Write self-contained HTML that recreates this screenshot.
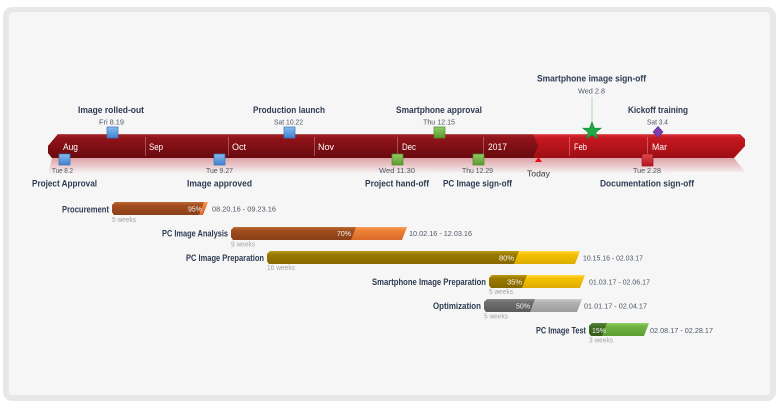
<!DOCTYPE html>
<html><head><meta charset="utf-8"><style>
html,body{margin:0;padding:0;background:#fff;}
svg{display:block;font-family:"Liberation Sans",sans-serif;}
.lb{font-weight:bold;font-size:9.5px;fill:#2d3b52;}
.dt{font-size:7.5px;fill:#4d5866;}
.wk{font-size:7px;fill:#a3a3a3;}
.mo{font-size:9px;fill:#fff;}
.pc{font-size:7.5px;fill:#f3f3f3;}
.rg{font-size:7.5px;fill:#4d5866;}
</style></head><body>
<svg width="780" height="407" viewBox="0 0 780 407" xmlns="http://www.w3.org/2000/svg">
<defs>
<linearGradient id="past" x1="0" y1="0" x2="0" y2="1">
<stop offset="0" stop-color="#a3262c"/><stop offset="0.18" stop-color="#8f141a"/><stop offset="0.6" stop-color="#7b0e13"/><stop offset="1" stop-color="#680a0e"/></linearGradient>
<linearGradient id="fut" x1="0" y1="0" x2="0" y2="1">
<stop offset="0" stop-color="#d8343a"/><stop offset="0.18" stop-color="#c5171f"/><stop offset="0.6" stop-color="#b2131a"/><stop offset="1" stop-color="#9b0f15"/></linearGradient>
<linearGradient id="refl" x1="0" y1="0" x2="0" y2="1">
<stop offset="0" stop-color="#c03a44" stop-opacity="0.45"/><stop offset="1" stop-color="#c03a44" stop-opacity="0"/></linearGradient>
<linearGradient id="blue" x1="0" y1="0" x2="0" y2="1"><stop offset="0" stop-color="#86bbee"/><stop offset="1" stop-color="#3f82cf"/></linearGradient>
<linearGradient id="green" x1="0" y1="0" x2="0" y2="1"><stop offset="0" stop-color="#94cc66"/><stop offset="1" stop-color="#5b9a2d"/></linearGradient>
<linearGradient id="red" x1="0" y1="0" x2="0" y2="1"><stop offset="0" stop-color="#e2484e"/><stop offset="1" stop-color="#b0181e"/></linearGradient>
<linearGradient id="brD" x1="0" y1="0" x2="0" y2="1"><stop offset="0" stop-color="#c06a35"/><stop offset="0.25" stop-color="#a24f20"/><stop offset="1" stop-color="#8a3f17"/></linearGradient>
<linearGradient id="brL" x1="0" y1="0" x2="0" y2="1"><stop offset="0" stop-color="#f7a160"/><stop offset="0.25" stop-color="#ef8337"/><stop offset="1" stop-color="#d8692a"/></linearGradient>
<linearGradient id="olD" x1="0" y1="0" x2="0" y2="1"><stop offset="0" stop-color="#b99a1a"/><stop offset="0.25" stop-color="#9c7b00"/><stop offset="1" stop-color="#846700"/></linearGradient>
<linearGradient id="olL" x1="0" y1="0" x2="0" y2="1"><stop offset="0" stop-color="#ffd84a"/><stop offset="0.25" stop-color="#f5c200"/><stop offset="1" stop-color="#dcab00"/></linearGradient>
<linearGradient id="grD" x1="0" y1="0" x2="0" y2="1"><stop offset="0" stop-color="#8a8a8a"/><stop offset="0.25" stop-color="#6e6e6e"/><stop offset="1" stop-color="#5a5a5a"/></linearGradient>
<linearGradient id="grL" x1="0" y1="0" x2="0" y2="1"><stop offset="0" stop-color="#cfcfcf"/><stop offset="0.25" stop-color="#b3b3b3"/><stop offset="1" stop-color="#9c9c9c"/></linearGradient>
<linearGradient id="gnD" x1="0" y1="0" x2="0" y2="1"><stop offset="0" stop-color="#5a8a3a"/><stop offset="0.25" stop-color="#426f24"/><stop offset="1" stop-color="#345b1b"/></linearGradient>
<linearGradient id="gnL" x1="0" y1="0" x2="0" y2="1"><stop offset="0" stop-color="#92d068"/><stop offset="0.25" stop-color="#72b545"/><stop offset="1" stop-color="#5c9c33"/></linearGradient>
</defs>

<!-- frame -->
<rect x="3" y="7" width="773" height="394" rx="9" fill="#e8e8e8"/>
<rect x="9" y="12" width="761" height="383" rx="4" fill="#f6f6f6"/>

<!-- band reflection -->
<polygon points="52,158 734,158 745,172 48,174" fill="url(#refl)"/>
<!-- band -->
<polygon points="58,134 740,134 745,139 745,146 734,158 52,158 48,153 48,146" fill="url(#fut)"/>
<polygon points="58,134 533,134 538,146 533,158 52,158 48,153 48,146" fill="url(#past)"/>
<line x1="58" y1="134.5" x2="740" y2="134.5" stroke="#ffffff" stroke-opacity="0.18"/>
<g stroke="#ffffff" stroke-opacity="0.28" stroke-width="1">
<line x1="145.5" y1="137" x2="145.5" y2="156"/>
<line x1="228.5" y1="137" x2="228.5" y2="156"/>
<line x1="314.5" y1="137" x2="314.5" y2="156"/>
<line x1="397.5" y1="137" x2="397.5" y2="156"/>
<line x1="483.5" y1="137" x2="483.5" y2="156"/>
<line x1="569.5" y1="137" x2="569.5" y2="156"/>
<line x1="647.5" y1="137" x2="647.5" y2="156"/>
</g>
<text class="mo" x="63" y="150" textLength="15" lengthAdjust="spacingAndGlyphs">Aug</text>
<text class="mo" x="149" y="150" textLength="14" lengthAdjust="spacingAndGlyphs">Sep</text>
<text class="mo" x="232" y="150" textLength="14" lengthAdjust="spacingAndGlyphs">Oct</text>
<text class="mo" x="318" y="150" textLength="16" lengthAdjust="spacingAndGlyphs">Nov</text>
<text class="mo" x="402" y="150" textLength="14" lengthAdjust="spacingAndGlyphs">Dec</text>
<text class="mo" x="488" y="150" textLength="19" lengthAdjust="spacingAndGlyphs">2017</text>
<text class="mo" x="574" y="150" textLength="13" lengthAdjust="spacingAndGlyphs">Feb</text>
<text class="mo" x="652" y="150" textLength="15" lengthAdjust="spacingAndGlyphs">Mar</text>

<!-- milestones squares -->
<rect x="59" y="154" width="11" height="11" fill="url(#blue)" stroke="#3a74b5" stroke-width="0.7"/>
<rect x="107" y="127" width="11" height="11" fill="url(#blue)" stroke="#3a74b5" stroke-width="0.7"/>
<rect x="214" y="154" width="11" height="11" fill="url(#blue)" stroke="#3a74b5" stroke-width="0.7"/>
<rect x="284" y="127" width="11" height="11" fill="url(#blue)" stroke="#3a74b5" stroke-width="0.7"/>
<rect x="392" y="154" width="11" height="11" fill="url(#green)" stroke="#4e8a2a" stroke-width="0.7"/>
<rect x="434" y="127" width="11" height="11" fill="url(#green)" stroke="#4e8a2a" stroke-width="0.7"/>
<rect x="473" y="154" width="11" height="11" fill="url(#green)" stroke="#4e8a2a" stroke-width="0.7"/>
<rect x="642" y="154" width="11" height="12" fill="url(#red)" stroke="#9a1318" stroke-width="0.7"/>

<!-- star with line -->
<line x1="592" y1="97" x2="592" y2="124" stroke="#a8dca8" stroke-width="1"/>
<polygon points="592,122 594.4,128.2 601,128.2 595.8,132.2 597.7,138.6 592,134.8 586.3,138.6 588.2,132.2 583,128.2 589.6,128.2" fill="#22a846" stroke="#148a34" stroke-width="0.7"/>
<!-- diamond -->
<polygon points="658,126.5 663,132 658,137.5 653,132" fill="#7d3fb0" stroke="#5e2a8c" stroke-width="0.6"/>
<!-- today -->
<polygon points="535,162 538.5,157 542,162" fill="#e31212"/>
<text x="538.5" y="176.5" font-size="8.5" fill="#333" text-anchor="middle" textLength="23" lengthAdjust="spacingAndGlyphs">Today</text>

<!-- milestone labels -->
<text class="lb" x="64.5" y="186.7" text-anchor="middle" textLength="65" lengthAdjust="spacingAndGlyphs">Project Approval</text>
<text class="dt" x="62.5" y="173" text-anchor="middle" textLength="21" lengthAdjust="spacingAndGlyphs">Tue 8.2</text>
<text class="lb" x="111" y="113" text-anchor="middle" textLength="66" lengthAdjust="spacingAndGlyphs">Image rolled-out</text>
<text class="dt" x="111.5" y="124.7" text-anchor="middle" textLength="25" lengthAdjust="spacingAndGlyphs">Fri 8.19</text>
<text class="lb" x="219.5" y="186.7" text-anchor="middle" textLength="65" lengthAdjust="spacingAndGlyphs">Image approved</text>
<text class="dt" x="219.5" y="173" text-anchor="middle" textLength="27" lengthAdjust="spacingAndGlyphs">Tue 9.27</text>
<text class="lb" x="289" y="113" text-anchor="middle" textLength="72" lengthAdjust="spacingAndGlyphs">Production launch</text>
<text class="dt" x="288.5" y="124.7" text-anchor="middle" textLength="29" lengthAdjust="spacingAndGlyphs">Sat 10.22</text>
<text class="lb" x="439" y="113" text-anchor="middle" textLength="86" lengthAdjust="spacingAndGlyphs">Smartphone approval</text>
<text class="dt" x="439" y="124.7" text-anchor="middle" textLength="32" lengthAdjust="spacingAndGlyphs">Thu 12.15</text>
<text class="lb" x="397" y="186.7" text-anchor="middle" textLength="64" lengthAdjust="spacingAndGlyphs">Project hand-off</text>
<text class="dt" x="397" y="173" text-anchor="middle" textLength="36" lengthAdjust="spacingAndGlyphs">Wed 11.30</text>
<text class="lb" x="477.5" y="186.7" text-anchor="middle" textLength="69" lengthAdjust="spacingAndGlyphs">PC Image sign-off</text>
<text class="dt" x="477.5" y="173" text-anchor="middle" textLength="31" lengthAdjust="spacingAndGlyphs">Thu 12.29</text>
<text class="lb" x="591.5" y="81.5" text-anchor="middle" textLength="109" lengthAdjust="spacingAndGlyphs">Smartphone image sign-off</text>
<text class="dt" x="591.5" y="93.5" text-anchor="middle" textLength="27" lengthAdjust="spacingAndGlyphs">Wed 2.8</text>
<text class="lb" x="658" y="113" text-anchor="middle" textLength="60" lengthAdjust="spacingAndGlyphs">Kickoff training</text>
<text class="dt" x="657.5" y="124.7" text-anchor="middle" textLength="21" lengthAdjust="spacingAndGlyphs">Sat 3.4</text>
<text class="lb" x="647" y="186.7" text-anchor="middle" textLength="94" lengthAdjust="spacingAndGlyphs">Documentation sign-off</text>
<text class="dt" x="647" y="173" text-anchor="middle" textLength="28" lengthAdjust="spacingAndGlyphs">Tue 2.28</text>

<!-- Task bars -->
<polygon points="115,202 208,202 203,215 114,215 112,212 112,205" fill="url(#brL)"/>
<polygon points="115,202 204,202 199,215 114,215 112,212 112,205" fill="url(#brD)"/>
<text class="lb" x="109" y="212.5" text-anchor="end" textLength="47" lengthAdjust="spacingAndGlyphs">Procurement</text>
<text class="pc" x="202" y="211.7" text-anchor="end" textLength="14" lengthAdjust="spacingAndGlyphs">95%</text>
<text class="rg" x="212" y="211.7" textLength="64" lengthAdjust="spacingAndGlyphs">08.20.16 - 09.23.16</text>
<text class="wk" x="112" y="222" textLength="24" lengthAdjust="spacingAndGlyphs">5 weeks</text>

<polygon points="234,227 407,227 402,240 233,240 231,237 231,230" fill="url(#brL)"/>
<polygon points="234,227 356,227 351,240 233,240 231,237 231,230" fill="url(#brD)"/>
<text class="lb" x="228" y="236.5" text-anchor="end" textLength="66" lengthAdjust="spacingAndGlyphs">PC Image Analysis</text>
<text class="pc" x="351" y="236" text-anchor="end" textLength="14" lengthAdjust="spacingAndGlyphs">70%</text>
<text class="rg" x="409" y="236" textLength="63" lengthAdjust="spacingAndGlyphs">10.02.16 - 12.03.16</text>
<text class="wk" x="231" y="246.5" textLength="24" lengthAdjust="spacingAndGlyphs">9 weeks</text>

<polygon points="270,251 580,251 575,264 269,264 267,261 267,254" fill="url(#olL)"/>
<polygon points="270,251 519,251 514,264 269,264 267,261 267,254" fill="url(#olD)"/>
<text class="lb" x="264" y="261" text-anchor="end" textLength="78" lengthAdjust="spacingAndGlyphs">PC Image Preparation</text>
<text class="pc" x="514" y="260.5" text-anchor="end" textLength="15" lengthAdjust="spacingAndGlyphs">80%</text>
<text class="rg" x="583" y="260.5" textLength="60" lengthAdjust="spacingAndGlyphs">10.15.16 - 02.03.17</text>
<text class="wk" x="267" y="270" textLength="28" lengthAdjust="spacingAndGlyphs">16 weeks</text>

<polygon points="492,275 585,275 580,288 491,288 489,285 489,278" fill="url(#olL)"/>
<polygon points="492,275 527,275 522,288 491,288 489,285 489,278" fill="url(#olD)"/>
<text class="lb" x="486" y="285" text-anchor="end" textLength="114" lengthAdjust="spacingAndGlyphs">Smartphone Image Preparation</text>
<text class="pc" x="522" y="284.5" text-anchor="end" textLength="15" lengthAdjust="spacingAndGlyphs">35%</text>
<text class="rg" x="589" y="284.5" textLength="61" lengthAdjust="spacingAndGlyphs">01.03.17 - 02.06.17</text>
<text class="wk" x="489" y="294" textLength="24" lengthAdjust="spacingAndGlyphs">5 weeks</text>

<polygon points="487,299 582,299 577,312 486,312 484,309 484,302" fill="url(#grL)"/>
<polygon points="487,299 535,299 530,312 486,312 484,309 484,302" fill="url(#grD)"/>
<text class="lb" x="481" y="309" text-anchor="end" textLength="48" lengthAdjust="spacingAndGlyphs">Optimization</text>
<text class="pc" x="530" y="308.5" text-anchor="end" textLength="14" lengthAdjust="spacingAndGlyphs">50%</text>
<text class="rg" x="584" y="308.5" textLength="63" lengthAdjust="spacingAndGlyphs">01.01.17 - 02.04.17</text>
<text class="wk" x="484" y="318.5" textLength="24" lengthAdjust="spacingAndGlyphs">5 weeks</text>

<polygon points="592,323 649,323 644,336 591,336 589,333 589,326" fill="url(#gnL)"/>
<polygon points="592,323 607,323 602,336 591,336 589,333 589,326" fill="url(#gnD)"/>
<text class="lb" x="586" y="333.3" text-anchor="end" textLength="50" lengthAdjust="spacingAndGlyphs">PC Image Test</text>
<text class="pc" x="606" y="332.8" text-anchor="end" textLength="14" lengthAdjust="spacingAndGlyphs">15%</text>
<text class="rg" x="650" y="332.8" textLength="63" lengthAdjust="spacingAndGlyphs">02.08.17 - 02.28.17</text>
<text class="wk" x="589" y="342.5" textLength="24" lengthAdjust="spacingAndGlyphs">3 weeks</text>
</svg>
</body></html>
